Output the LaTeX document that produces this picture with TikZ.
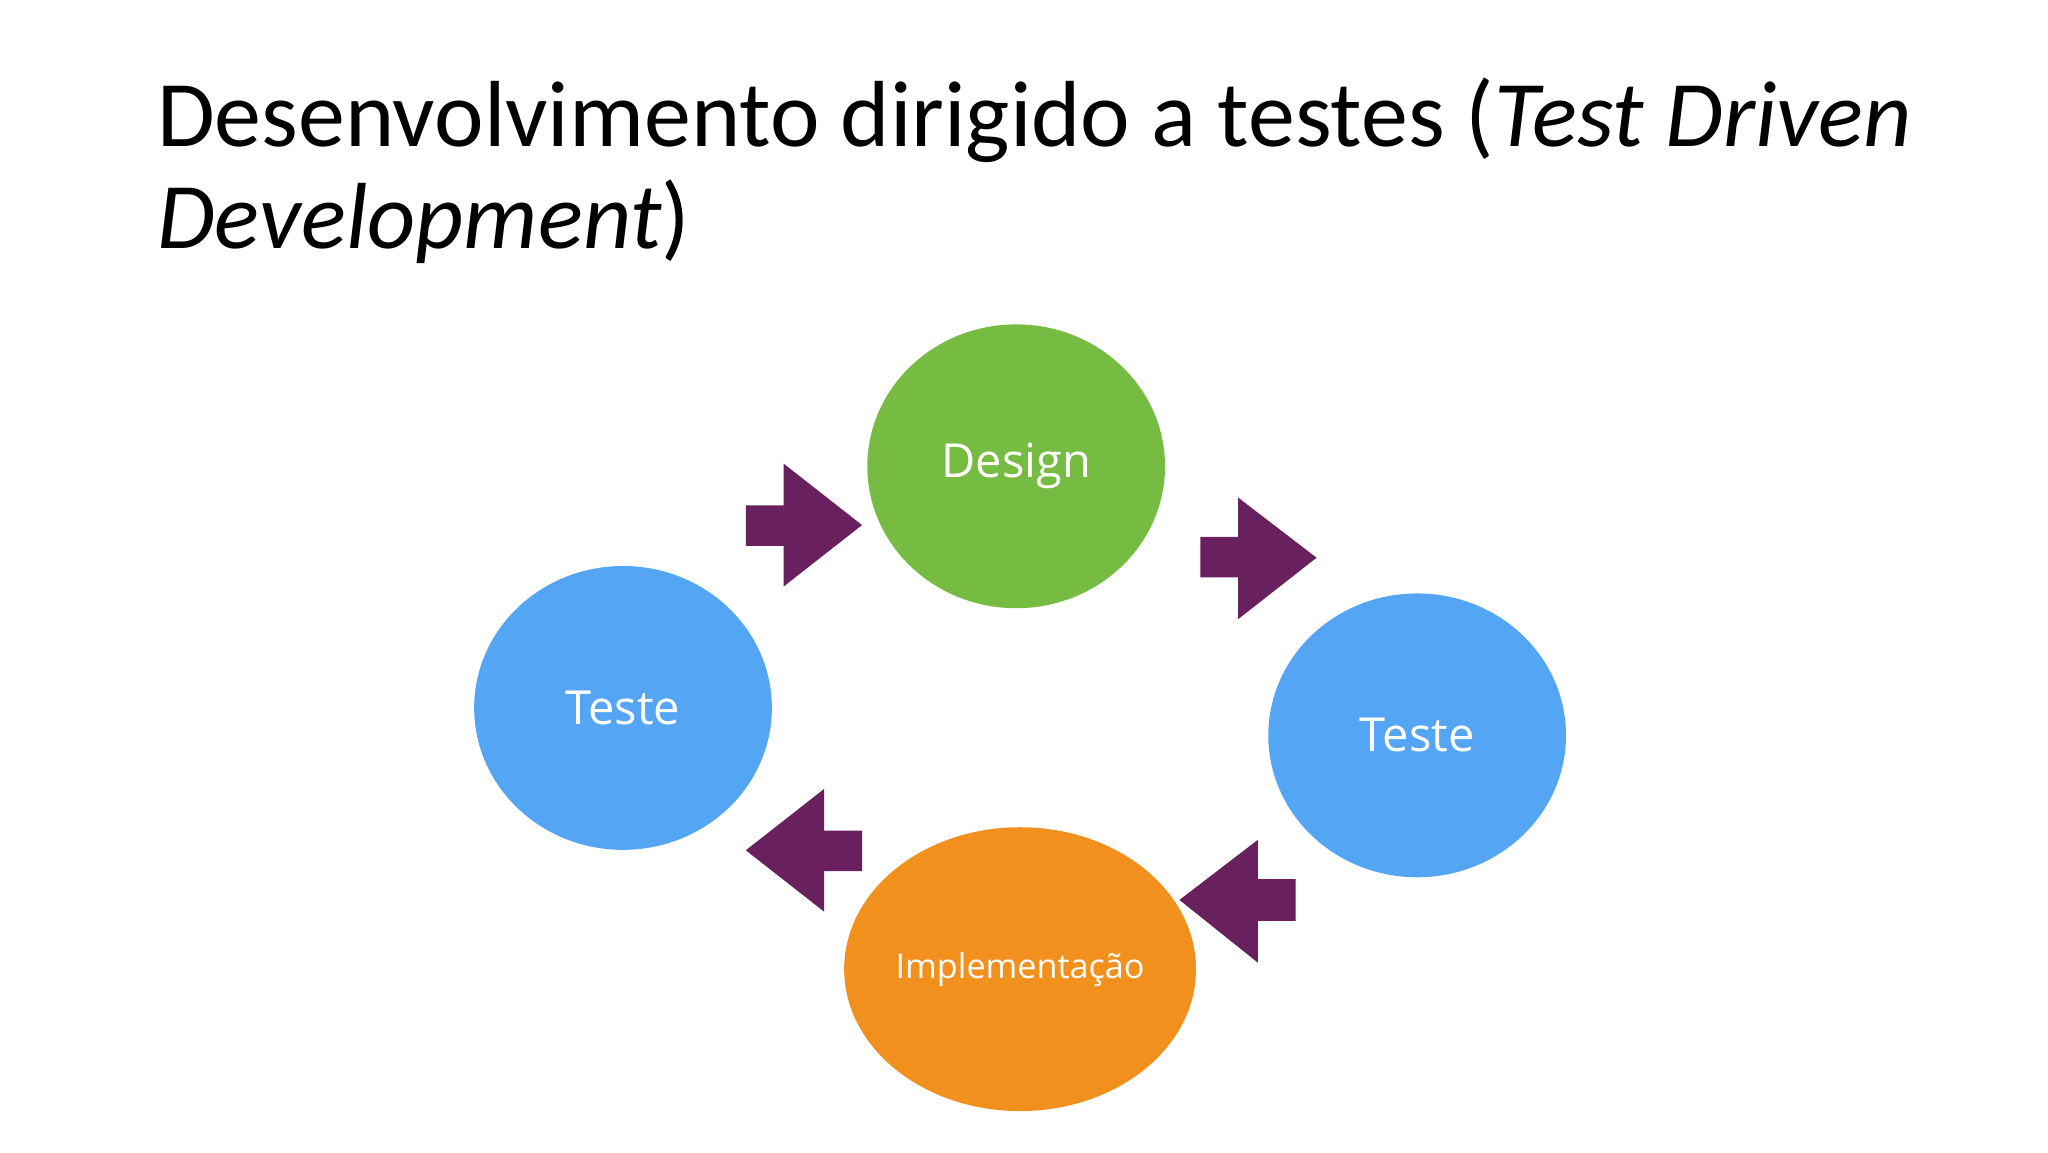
\documentclass[tikz,border=0pt]{standalone}
\usepackage{fontspec}
\usetikzlibrary{shapes.geometric}
\setmainfont{Carlito}
\newfontfamily\osans{Open Sans}
\definecolor{cgreen}{HTML}{76BC43}
\definecolor{cblue}{HTML}{54A6F5}
\definecolor{corange}{HTML}{F2901E}
\definecolor{cpurple}{HTML}{68215E}
\begin{document}
\begin{tikzpicture}[x=0.612pt,y=-0.612pt,
  blob/.style={ellipse, minimum width=139.5pt, minimum height=133pt, inner sep=0pt, text=white, font=\osans\fontsize{22}{26}\selectfont},
  arr/.style={fill=cpurple, draw=none}]
\fill[white] (0,0) rectangle (1568,882);
\useasboundingbox (0,0) rectangle (1568,882);
\node[anchor=base west, font=\fontsize{44}{48}\selectfont, inner sep=0pt] (t1) at (120,112) {Desenvolvimento dirigido a testes (\textit{Test Driven}};
\node[anchor=base west, font=\fontsize{44}{48}\selectfont, inner sep=0pt] (t2) at (120,190) {\textit{Development})};
\node[blob, fill=cgreen] (d) at (778,357) {Design};
\node[blob, fill=cblue] (tl) at (477,542) {Teste};
\node[blob, fill=cblue] (tr) at (1085,563) {Teste};
\node[blob, fill=corange, font=\osans\fontsize{16}{20}\selectfont] (im) at (781,742) {Implementação};
\fill[arr] (571,387) -- (600,387) -- (600,355) -- (660,402) -- (600,449) -- (600,418) -- (571,418) -- cycle;
\fill[arr] (919,411) -- (948,411) -- (948,381) -- (1008,427) -- (948,474) -- (948,442) -- (919,442) -- cycle;
\fill[arr] (992,673) -- (963,673) -- (963,643) -- (903,689) -- (963,737) -- (963,705) -- (992,705) -- cycle;
\fill[arr] (660,636) -- (631,636) -- (631,604) -- (571,651) -- (631,698) -- (631,667) -- (660,667) -- cycle;
\end{tikzpicture}
\end{document}
